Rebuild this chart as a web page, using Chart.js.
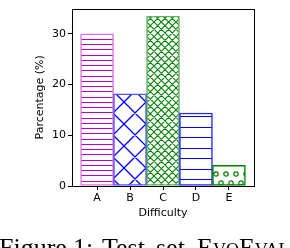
<!DOCTYPE html>
<html>
<head>
<meta charset="utf-8">
<script src="https://cdn.jsdelivr.net/npm/chart.js@4"></script>
<style>
  body { margin: 0; background: #fff; }
  #wrap { position: relative; width: 290px; height: 248px; overflow: hidden; }
  #caption span {
    position: absolute;
    top: 235px;
    font-family: "Liberation Serif", "DejaVu Serif", serif;
    font-size: 26px;
    line-height: 26px;
    color: #000;
    white-space: nowrap;
  }
</style>
</head>
<body>
<div id="wrap">
  <canvas id="diffChart" width="290" height="248"></canvas>
  <div id="caption">
    <span style="left:-1px">Figure</span>
    <span style="left:73px">1:</span>
    <span style="left:102px">Test</span>
    <span style="left:156px">set</span>
    <span style="left:197px; font-variant: small-caps;">EvoEval</span>
  </div>
</div>
<script>

// DATA

const categories = ['A', 'B', 'C', 'D', 'E'];
const percentages = [30, 18.2, 33.5, 14.4, 4.1];
const yTicks = [0, 10, 20, 30];


// HATCH PATTERNS

function makePattern(w, h, draw) {
    const c = document.createElement('canvas');
    c.width = w;
    c.height = h;
    const g = c.getContext('2d');
    g.fillStyle = '#fff';
    g.fillRect(0, 0, w, h);
    draw(g, w, h);
    return g.createPattern(c, 'repeat');
}

function rows(color, list) {
    return (g, w) => {
        g.fillStyle = color;
        list.forEach(r => g.fillRect(0, r, w, 1));
    };
}

function diag(color, step, neOff, nwOff, lw) {
    return (g, w, h) => {
        g.strokeStyle = color;
        g.lineWidth = lw;
        g.beginPath();
        for (let k = -6; k <= 12; k++) {
            const a = neOff + k * step;
            g.moveTo(-w, a + w);
            g.lineTo(2 * w, a - 2 * w);
            const b = nwOff + k * step;
            g.moveTo(-w, -w - b);
            g.lineTo(2 * w, 2 * w - b);
        }
        g.stroke();
    };
}

function circles(g) {
    g.strokeStyle = '#008000';
    g.lineWidth = 1.2;
    [[6, 14], [-4, 14], [16, 14], [1, 3], [11, 3], [1, 23], [11, 23]].forEach(p => {
        g.beginPath();
        g.arc(p[0], p[1], 2.2, 0, Math.PI * 2);
        g.stroke();
    });
}

const fills = [
    makePattern(4, 21, rows('#bf00bf', [2, 7, 13, 18])),
    makePattern(22, 22, diag('#0000ff', 22, 6, 0, 1.3)),
    makePattern(22, 22, diag('#008000', 22 / 3, 0, 0, 1.1)),
    makePattern(4, 21, rows('#0000ff', [1, 11])),
    makePattern(10, 20, circles)
];

const edges = [
    'rgba(191,0,191,0.55)',
    'rgba(40,40,255,0.8)',
    'rgba(0,128,0,0.6)',
    'rgba(0,0,255,0.85)',
    '#008000'
];


// FRAME (top and right spines)

const frame = {
    id: 'frame',
    afterDatasetsDraw(chart) {
        const a = chart.chartArea;
        const g = chart.ctx;
        g.save();
        g.strokeStyle = '#000';
        g.lineWidth = 1;
        g.strokeRect(Math.round(a.left) + 0.5, Math.round(a.top) + 0.5,
            Math.round(a.right - a.left), Math.round(a.bottom - a.top));
        g.restore();
    }
};

const font = { family: 'DejaVu Sans', size: 11 };


// BAR CHART

new Chart(document.getElementById('diffChart'), {

    type: 'bar',

    data: {
        datasets: [{
            data: percentages.map((v, i) => ({ x: i, y: v })),
            backgroundColor: fills,
            borderColor: edges,
            borderWidth: 1.5,
            borderSkipped: false,
            categoryPercentage: 1,
            barPercentage: 1
        }]
    },

    options: {

        responsive: false,
        animation: false,

        layout: {
            padding: { left: 33.4, top: 2, right: 36, bottom: 28.4 }
        },

        plugins: {
            legend: { display: false },
            tooltip: { enabled: false }
        },

        scales: {

            x: {
                type: 'linear',
                offset: false,
                min: -0.76,
                max: 4.76,
                afterBuildTicks: s => { s.ticks = categories.map((c, i) => ({ value: i })); },
                afterFit: s => { s.height = 33.6; },
                ticks: {
                    color: '#000',
                    font: font,
                    padding: 2,
                    maxRotation: 0,
                    callback: v => categories[v]
                },
                grid: {
                    offset: false,
                    drawOnChartArea: false,
                    tickLength: 4,
                    tickColor: '#000'
                },
                border: { display: false },
                title: {
                    display: true,
                    text: 'Difficulty',
                    color: '#000',
                    font: font,
                    padding: 0
                }
            },

            y: {
                min: 0,
                max: 35,
                afterBuildTicks: s => { s.ticks = yTicks.map(v => ({ value: v })); },
                afterFit: s => { s.width = 38.6; },
                ticks: {
                    color: '#000',
                    font: font,
                    padding: 2
                },
                grid: {
                    drawOnChartArea: false,
                    tickLength: 4,
                    tickColor: '#000'
                },
                border: { display: false },
                title: {
                    display: true,
                    text: 'Parcentage (%)',
                    color: '#000',
                    font: font,
                    padding: 0
                }
            }

        }

    },

    plugins: [frame]

});

</script>
</body>
</html>
